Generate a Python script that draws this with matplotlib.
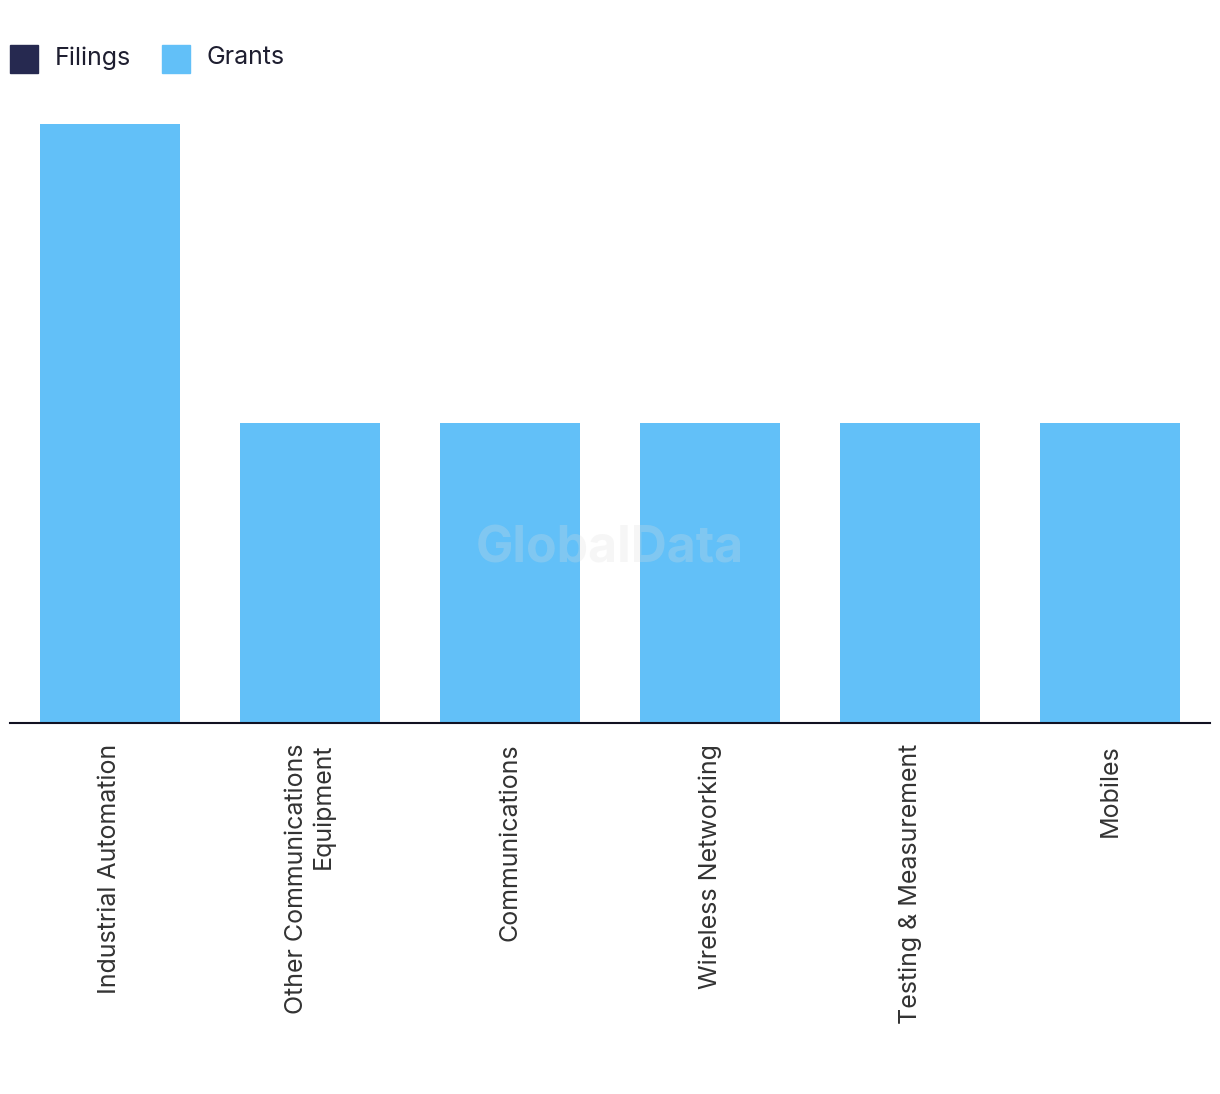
import matplotlib.pyplot as plt

plt.rcParams['font.family'] = ['Inter', 'DejaVu Sans']

categories = ['Industrial Automation', 'Other Communications\nEquipment', 'Communications',
              'Wireless Networking', 'Testing & Measurement', 'Mobiles']
filings = [0, 0, 0, 0, 0, 0]
grants = [2, 1, 1, 1, 1, 1]

filings_color = '#262950'
grants_color = '#62C0F8'

fig = plt.figure(figsize=(12.2, 10.94), dpi=100)
ax = fig.add_axes([10 / 1220, 371 / 1094, 1200 / 1220, 599 / 1094])

x = list(range(len(categories)))
ax.bar(x, grants, width=0.7, color=grants_color, label='Grants', zorder=2)
ax.bar(x, filings, width=0.7, color=filings_color, label='Filings', zorder=3)

ax.set_xlim(-0.5, len(categories) - 0.5)
ax.set_ylim(0, max(grants))
ax.set_yticks([])
for s in ['top', 'right', 'left']:
    ax.spines[s].set_visible(False)
ax.spines['bottom'].set_color('#111122')
ax.spines['bottom'].set_linewidth(1.5)
ax.spines['bottom'].set_zorder(4)

ax.set_xticks(x)
ax.set_xticklabels(categories, rotation=90, ha='center', va='top', multialignment='right',
                   fontsize=18, color='#333333')
ax.tick_params(axis='x', length=0, pad=15)

# watermark
ax.text(0.5, 0.29, 'GlobalData', transform=ax.transAxes, ha='center', va='center',
        fontsize=36, fontweight='bold', color='#dddddd', alpha=0.25, zorder=5)

# legend
fig.patches.append(plt.Rectangle((10 / 1220, 1 - 73 / 1094), 28 / 1220, 28 / 1094,
                                 transform=fig.transFigure, color=filings_color))
fig.text(55 / 1220, 1 - 58 / 1094, 'Filings', fontsize=18, color='#1e1e30', va='center')
fig.patches.append(plt.Rectangle((162 / 1220, 1 - 73 / 1094), 28 / 1220, 28 / 1094,
                                 transform=fig.transFigure, color=grants_color))
fig.text(207 / 1220, 1 - 58 / 1094, 'Grants', fontsize=18, color='#1e1e30', va='center')

fig.savefig('out.png', dpi=100, facecolor='white')
